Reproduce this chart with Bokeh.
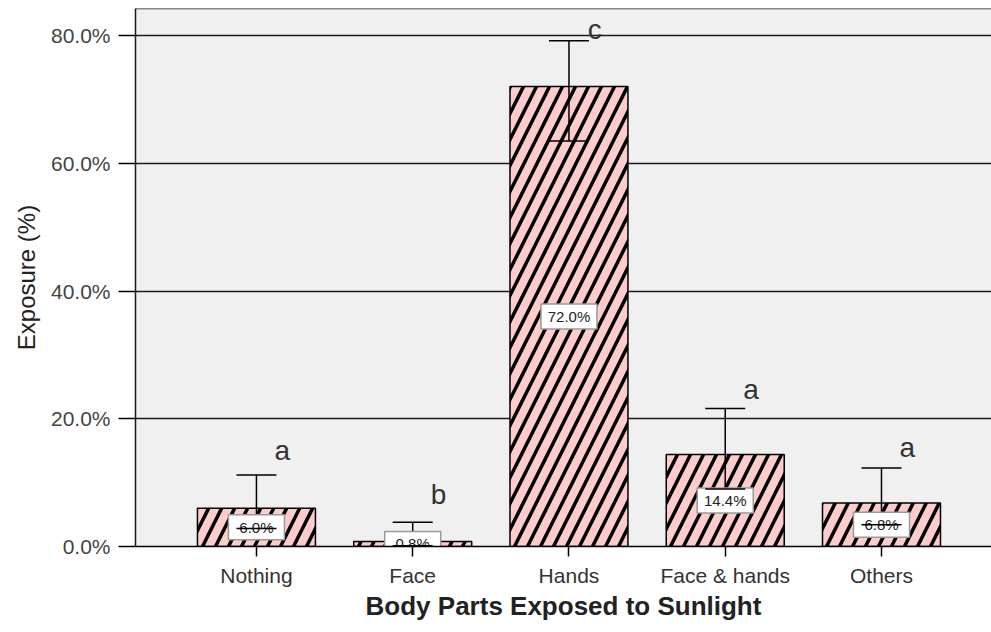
from bokeh.plotting import figure
from bokeh.models import ColumnDataSource, Range1d, FixedTicker, PrintfTickFormatter, Span
from bokeh.core.properties import value
from bokeh.embed import file_html
from bokeh.resources import INLINE

# ---- data ----
categories = ["Nothing", "Face", "Hands", "Face & hands", "Others"]
exposure = [6.0, 0.8, 72.0, 14.4, 6.8]
ci_upper = [11.2, 3.8, 79.2, 21.6, 12.3]
ci_lower = [2.8, 0.1, 63.5, 9.0, 3.4]
value_labels = ["6.0%", "0.8%", "72.0%", "14.4%", "6.8%"]
group_letters = ["a", "b", "c", "a", "a"]
y_ticks = [0, 20, 40, 60, 80]

# ---- styling (not data) ----
FONT = "Liberation Sans"
letter_offsets_px = [9, 12, -4, 4, 5]

xs = list(range(len(categories)))
src = ColumnDataSource(dict(
    x=xs,
    top=exposure,
    mid=[v / 2 for v in exposure],
    upper=ci_upper,
    lower=ci_lower,
    label=value_labels,
    letter=group_letters,
    letter_x=[x + 0.165 for x in xs],
    letter_off=[-o for o in letter_offsets_px],
))

X0, X1, Y1 = -0.774, 4.704, 84.23
p = figure(width=991, height=624, output_backend="svg", toolbar_location=None,
           x_range=Range1d(X0, X1), y_range=Range1d(0, Y1),
           min_border_left=135, min_border_right=0, min_border_top=8,
           min_border_bottom=78)
p.background_fill_color = "#F0F0F0"
p.border_fill_color = "white"
p.outline_line_color = None

# grid
p.xgrid.grid_line_color = None
p.ygrid.grid_line_color = "#1a1a1a"
p.ygrid.grid_line_width = 1.3
p.ygrid.ticker = FixedTicker(ticks=y_ticks)

# top border of the frame
p.add_layout(Span(location=Y1, dimension="width", line_color="#1a1a1a", line_width=1.5))

# bars
p.vbar(x="x", top="top", bottom=0, width=0.755, source=src,
       fill_color="#FFCCCC", line_color="black", line_width=1.5,
       hatch_pattern="/", hatch_color="black", hatch_scale=26, hatch_weight=3.5)

# error bars: stem and upper cap
p.segment(x0="x", y0="lower", x1="x", y1="upper", source=src,
          line_color="black", line_width=1.5)
p.scatter(x="x", y="upper", source=src, marker="dash", size=40,
          line_color="black", line_width=1.5)

# value labels (boxed)
p.rect(x="x", y="mid", width=56, height=25, width_units="screen", height_units="screen",
       source=src, fill_color="white", line_color="#9a9a9a", line_width=1.5)
p.text(x="x", y="mid", text="label", source=src,
       text_align="center", text_baseline="middle",
       text_font=value(FONT), text_font_size="15px", text_color="#222222")

# lower caps drawn over the labels
p.scatter(x="x", y="lower", source=src, marker="dash", size=40,
          line_color="black", line_width=1.5)

# significance letters
p.text(x="letter_x", y="upper", text="letter", source=src, y_offset="letter_off",
       text_align="center", text_baseline="bottom",
       text_font=value(FONT), text_font_size="28px", text_color="#333333")

# axes
p.xaxis.ticker = FixedTicker(ticks=xs)
p.xaxis.major_label_overrides = {i: c for i, c in enumerate(categories)}
p.xaxis.minor_tick_line_color = None
p.xaxis.major_tick_in = 0
p.xaxis.major_tick_out = 10
p.xaxis.major_tick_line_color = "black"
p.xaxis.major_tick_line_width = 1.5
p.xaxis.axis_line_color = "black"
p.xaxis.axis_line_width = 1.5
p.xaxis.major_label_text_font = FONT
p.xaxis.major_label_text_font_size = "21px"
p.xaxis.major_label_text_color = "#333333"
p.xaxis.major_label_standoff = 7
p.xaxis.axis_label = "Body Parts Exposed to Sunlight"
p.xaxis.axis_label_text_font = FONT
p.xaxis.axis_label_text_font_size = "26px"
p.xaxis.axis_label_text_font_style = "bold"
p.xaxis.axis_label_text_color = "#222222"
p.xaxis.axis_label_standoff = 1

p.yaxis.ticker = FixedTicker(ticks=y_ticks)
p.yaxis.formatter = PrintfTickFormatter(format="%.1f%%")
p.yaxis.minor_tick_line_color = None
p.yaxis.major_tick_in = 0
p.yaxis.major_tick_out = 17
p.yaxis.major_tick_line_color = "black"
p.yaxis.major_tick_line_width = 1.5
p.yaxis.axis_line_color = "#1a1a1a"
p.yaxis.axis_line_width = 1.5
p.yaxis.major_label_text_font = FONT
p.yaxis.major_label_text_font_size = "21px"
p.yaxis.major_label_text_color = "#444444"
p.yaxis.major_label_standoff = 8
p.yaxis.axis_label = "Exposure (%)"
p.yaxis.axis_label_text_font = FONT
p.yaxis.axis_label_text_font_size = "24px"
p.yaxis.axis_label_text_font_style = "normal"
p.yaxis.axis_label_text_color = "#222222"
p.yaxis.axis_label_standoff = 8

open("out.html", "w").write(file_html(p, INLINE))
